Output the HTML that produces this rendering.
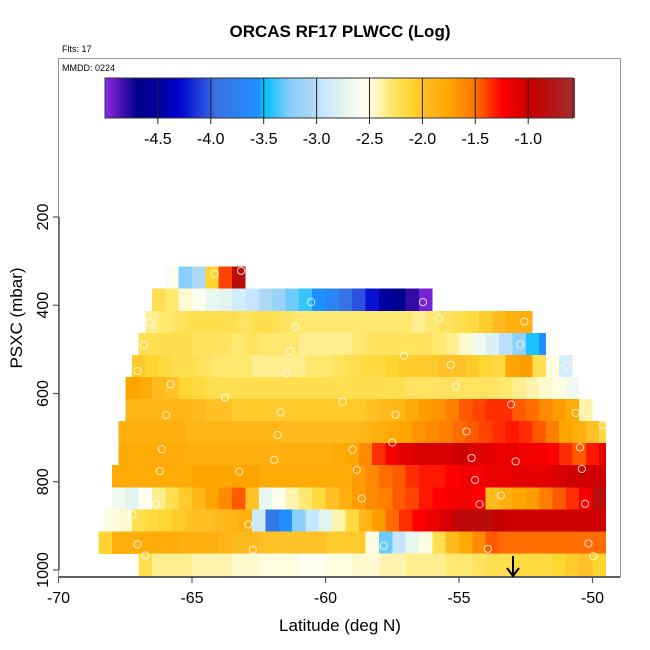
<!DOCTYPE html>
<html><head><meta charset="utf-8"><style>
html,body{margin:0;padding:0;background:#fff}
svg{display:block;font-family:"Liberation Sans",sans-serif}
</style></head><body>
<svg id="chart" width="650" height="650" viewBox="0 0 650 650" xmlns="http://www.w3.org/2000/svg">
<rect width="650" height="650" fill="#fff"/>
<text x="340" y="37" text-anchor="middle" font-size="17" font-weight="bold">ORCAS RF17 PLWCC (Log)</text>
<text x="62" y="52" font-size="9">Flts: 17</text>
<g id="cells" shape-rendering="crispEdges"></g>
<g id="pts"></g>
<rect x="58.5" y="58.5" width="562" height="518.5" fill="none" stroke="#999" stroke-width="1"/>
<text x="62" y="71" font-size="9">MMDD: 0224</text>
<g id="cbar"></g>
<g id="axes"></g>
<text x="340" y="631" text-anchor="middle" font-size="17">Latitude (deg N)</text>
<text transform="translate(22,318) rotate(-90)" text-anchor="middle" font-size="17">PSXC (mbar)</text>
<g>
<line x1="513" y1="556" x2="513" y2="575" stroke="#000" stroke-width="2"/>
<path d="M507 568 L513 576 L519 568" fill="none" stroke="#000" stroke-width="2"/>
</g>
</svg>
<script>
// ---- data ----
const rowPressure = [337.5,387.5,437.5,487.5,537.5,587.5,637.5,687.5,737.5,787.5,837.5,887.5,937.5,987.5];
const rowStartLon = [-66,-66.5,-66.75,-67,-67.25,-67.5,-67.5,-67.75,-67.75,-68,-68,-68.25,-68.5,-67];
const rowEndLon   = [-63,-56,-52.25,-51.75,-50.75,-50.5,-50,-49.5,-49.5,-49.5,-49.5,-49.5,-49.5,-49.5];
const row0 = [-2.6,-3.25,-3.05,-2.1,-1.4,-0.85];
const row1 = [-2.2,-2.3,-2.45,-2.55,-2.7,-2.75,-2.85,-2.95,-3.05,-3.15,-3.3,-3.4,-3.55,-3.7,-3.9,-4.05,-4.25,-4.5,-4.65,-4.8,-4.95];
const row2 = [-2.35,-2.3,-2.25,-2.2,-2.2,-2.2,-2.2,-2.25,-2.2,-2.2,-2.25,-2.3,-2.3,-2.3,-2.3,-2.3,-2.3,-2.3,-2.3,-2.3,-2.35,-2.3,-2.25,-2.2,-2.15,-2.05,-1.95,-1.85,-1.85];
const row3 = [-2.2,-2.2,-2.2,-2.2,-2.25,-2.25,-2.25,-2.3,-2.25,-2.3,-2.3,-2.3,-2.35,-2.35,-2.35,-2.35,-2.3,-2.25,-2.25,-2.25,-2.25,-2.25,-2.3,-2.35,-2.45,-2.65,-2.8,-3.0,-3.2,-3.45,-3.55];
const row4 = [-2.05,-2.1,-2.15,-2.2,-2.2,-2.25,-2.3,-2.3,-2.3,-2.35,-2.35,-2.35,-2.35,-2.3,-2.3,-2.25,-2.2,-2.15,-2.15,-2.1,-2.05,-2.05,-2.05,-2.0,-2.0,-2.05,-2.1,-2.15,-1.75,-1.7,-2.2,-2.5,-2.85];
const row5 = [-1.75,-1.8,-1.95,-2.0,-2.1,-2.15,-2.2,-2.2,-2.2,-2.2,-2.2,-2.2,-2.2,-2.2,-2.2,-2.2,-2.2,-2.2,-2.2,-2.2,-2.2,-2.25,-2.25,-2.25,-2.25,-2.25,-2.25,-2.25,-2.3,-2.35,-2.4,-2.45,-2.5,-2.65];
const row6 = [-1.9,-1.9,-1.9,-1.9,-1.9,-1.95,-2.0,-2.0,-2.05,-2.05,-2.05,-2.05,-2.05,-2.05,-2.05,-2.05,-2.05,-2.05,-2.0,-1.95,-1.9,-1.8,-1.7,-1.65,-1.55,-1.45,-1.4,-1.35,-1.35,-1.45,-1.5,-1.6,-1.7,-1.8,-2.4];
const row7 = [-1.85,-1.85,-1.85,-1.85,-1.85,-1.9,-1.9,-1.9,-1.9,-1.9,-1.9,-1.9,-1.95,-1.95,-1.95,-1.95,-1.95,-1.95,-1.9,-1.85,-1.8,-1.75,-1.65,-1.6,-1.55,-1.5,-1.45,-1.4,-1.35,-1.3,-1.35,-1.45,-1.55,-1.75,-1.85,-2.0,-2.15];
const row8 = [-1.8,-1.8,-1.8,-1.8,-1.8,-1.85,-1.85,-1.85,-1.85,-1.85,-1.85,-1.85,-1.85,-1.85,-1.85,-1.85,-1.8,-1.75,-1.6,-1.35,-1.2,-1.1,-1.05,-1.05,-1.05,-1.0,-1.05,-1.1,-1.15,-1.15,-1.2,-1.2,-1.25,-1.35,-1.45,-1.3,-1.15];
const row9 = [-1.8,-1.8,-1.8,-1.8,-1.8,-1.8,-1.75,-1.75,-1.75,-1.75,-1.75,-1.8,-1.8,-1.8,-1.8,-1.8,-1.8,-1.8,-1.7,-1.6,-1.5,-1.45,-1.35,-1.3,-1.3,-1.25,-1.2,-1.2,-1.15,-1.15,-1.1,-1.1,-1.1,-1.05,-1.0,-1.0,-1.0];
const row10 = [-2.65,-2.75,-2.55,-2.35,-2.2,-2.05,-1.9,-1.75,-1.6,-1.45,-2.0,-2.7,-2.55,-2.4,-2.3,-2.15,-2.0,-1.85,-1.7,-1.6,-1.55,-1.45,-1.4,-1.3,-1.25,-1.2,-1.2,-1.25,-1.95,-1.85,-1.75,-1.7,-1.55,-1.45,-1.35,-1.2,-0.85];
const row11 = [-2.5,-2.45,-2.2,-2.15,-2.1,-2.05,-2.0,-2.0,-1.95,-1.9,-1.85,-2.9,-3.85,-3.55,-3.25,-2.95,-2.75,-2.4,-2.15,-1.9,-1.7,-1.5,-1.35,-1.25,-1.15,-1.05,-0.9,-0.85,-0.85,-0.95,-1.0,-1.0,-1.0,-1.0,-1.0,-1.0,-1.0,-1.0];
const row12 = [-2.1,-1.85,-1.85,-1.8,-1.8,-1.8,-1.85,-1.85,-1.85,-1.9,-1.95,-1.95,-2.0,-2.0,-2.0,-2.0,-2.0,-2.05,-2.05,-2.05,-2.5,-3.3,-2.95,-2.7,-2.5,-2.2,-1.95,-1.8,-1.6,-1.45,-1.5,-1.5,-1.5,-1.5,-1.5,-1.5,-1.5,-1.5];
const row13 = [-2.2,-2.35,-2.35,-2.35,-2.4,-2.4,-2.4,-2.45,-2.45,-2.5,-2.5,-2.5,-2.55,-2.55,-2.5,-2.5,-2.45,-2.45,-2.4,-2.4,-2.35,-2.35,-2.35,-2.3,-2.3,-2.25,-2.2,-2.2,-2.15,-2.15,-2.15,-2.1,-2.05,-2.0,-2.1];
const rowValues = [row0,row1,row2,row3,row4,row5,row6,row7,row8,row9,row10,row11,row12,row13];
const cellLonStep = 0.5;
const pointLon = [-65.86,-64.15,-63.16,-65.30,-60.54,-56.35,-66.57,-61.13,-55.76,-52.55,-66.80,-61.32,-57.06,-52.71,-67.04,-61.46,-55.31,-50.97,-65.80,-63.76,-59.36,-55.12,-65.97,-61.69,-57.38,-53.05,-50.63,-66.13,-61.80,-57.50,-54.72,-49.60,-66.21,-61.92,-58.99,-54.53,-52.88,-50.47,-66.36,-63.23,-58.83,-54.40,-50.40,-67.23,-62.89,-58.64,-54.23,-53.43,-50.28,-67.04,-62.72,-57.82,-53.92,-50.15,-66.75,-58.04,-49.97];
const pointP   = [333,329,322,393,393,393,439,449,430,437,490,504,514,489,549,554,535,538,579,609,619,585,649,643,648,625,644,726,694,711,686,672,776,750,727,746,754,722,850,777,773,796,771,875,897,838,851,831,850,942,954,945,952,940,967,977,969];
const xTicks = [-70,-65,-60,-55,-50];
const yTicks = [200,400,600,800,1000];
const cbTicks = [-4.5,-4.0,-3.5,-3.0,-2.5,-2.0,-1.5,-1.0];
const cbMin = -5.0, cbMax = -0.58;

// ---- scales ----
const X = lon => 58.5 + (lon + 70) * 26.7;
const Y = p => 217 + (p - 200) * 0.44125;
const CB = v => 105 + (v - cbMin) * 105.8;
const stops = [[-5.0,'#8b2be8'],[-4.85,'#4b12b0'],[-4.7,'#00008b'],[-4.5,'#00009e'],[-4.3,'#0000cd'],[-4.05,'#2a50e0'],[-3.95,'#3a70e2'],[-3.55,'#1e90ff'],[-3.5,'#00bfff'],[-3.25,'#87cefa'],[-3.05,'#add8f5'],[-2.95,'#c6e6ff'],[-2.75,'#e0f5f0'],[-2.55,'#fffff0'],[-2.45,'#fffacd'],[-2.3,'#ffe870'],[-2.1,'#ffd530'],[-2.0,'#ffc125'],[-1.75,'#ffa500'],[-1.55,'#ff7f00'],[-1.45,'#ff5a00'],[-1.25,'#ff0000'],[-1.05,'#d80000'],[-0.95,'#c40000'],[-0.6,'#a52a2a']];
function hex(h){return [1,3,5].map(i=>parseInt(h.substr(i,2),16));}
function color(v){
  if(v<=stops[0][0]) return stops[0][1];
  for(let i=1;i<stops.length;i++){
    if(v<=stops[i][0]){
      const a=hex(stops[i-1][1]), b=hex(stops[i][1]);
      const t=(v-stops[i-1][0])/(stops[i][0]-stops[i-1][0]);
      return 'rgb('+a.map((c,k)=>Math.round(c+(b[k]-c)*t)).join(',')+')';
    }
  }
  return stops[stops.length-1][1];
}
const NS='http://www.w3.org/2000/svg';
function mk(tag,attrs,parent){const e=document.createElementNS(NS,tag);for(const k in attrs)e.setAttribute(k,attrs[k]);parent.appendChild(e);return e;}

// ---- heatmap ----
const cells=document.getElementById('cells');
rowValues.forEach((vals,r)=>{
  const y0=Y(rowPressure[r]-25), y1=Y(rowPressure[r]+25);
  vals.forEach((v,c)=>{
    const l0=rowStartLon[r]+c*cellLonStep;
    const l1=Math.min(l0+cellLonStep,rowEndLon[r]);
    const x0=X(l0), x1=X(l1);
    const last=(l1>=rowEndLon[r]);
    const el=mk('rect',{x:x0,y:y0,width:(x1-x0)+(last?0:0.6),height:(y1-y0)+0.6,fill:color(v)},cells);
    
    
  });
});
// ---- points ----
const pts=document.getElementById('pts');
pointLon.forEach((lon,i)=>{
  const el=mk('circle',{cx:X(lon),cy:Y(pointP[i]),r:3.6,fill:'none',stroke:'#fff','stroke-opacity':0.8,'stroke-width':1},pts);
  
  
});
// ---- colorbar ----
const cb=document.getElementById('cbar');
for(let v=cbMin; v<cbMax; v+=0.02){
  const el=mk('rect',{x:CB(v),y:78,width:2.4,height:40,fill:color(v+0.01),'shape-rendering':'crispEdges'},cb);
  
  
}
mk('rect',{x:105,y:78,width:CB(cbMax)-105,height:40,fill:'none',stroke:'#333','stroke-width':1},cb);
cbTicks.forEach(t=>{
  const x=CB(t);
  const ln=mk('line',{x1:x,y1:78,x2:x,y2:124,stroke:'#222','stroke-width':1},cb);
  
  
  const tx=mk('text',{x:x,y:144,'text-anchor':'middle','font-size':16},cb);
  tx.textContent=t.toFixed(1);
  
  
});
// ---- axes ----
const ax=document.getElementById('axes');
mk('line',{x1:58.5,y1:577,x2:620,y2:577,stroke:'#000','stroke-width':1.2},ax);
mk('line',{x1:59,y1:Y(200),x2:59,y2:Y(1000),stroke:'#555','stroke-width':1.5},ax);
xTicks.forEach(t=>{
  const x=X(t);
  mk('line',{x1:x,y1:577,x2:x,y2:583,stroke:'#555','stroke-width':1.2},ax);
  const tx=mk('text',{x:x,y:603,'text-anchor':'middle','font-size':16},ax);
  tx.textContent=t;
  
  
});
yTicks.forEach(t=>{
  const y=Y(t);
  mk('line',{x1:53,y1:y,x2:59,y2:y,stroke:'#555','stroke-width':1.2},ax);
  const tx=mk('text',{x:0,y:0,'text-anchor':'middle','font-size':16,transform:'translate(48,'+y+') rotate(-90)'},ax);
  tx.textContent=t;
  
  
});
</script>
</body></html>
